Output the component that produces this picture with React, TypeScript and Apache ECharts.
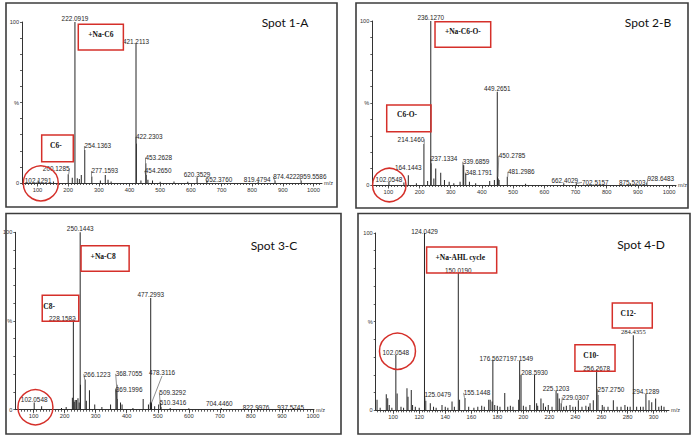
import { useEffect, useRef } from 'react';
import * as echarts from 'echarts';

type Peak = [number, number];

// ---------------- data (m/z, relative intensity %) ----------------
// Spot 1-A
const spot1Labelled: Peak[] = [
  [102.1291, 1.5], [200.1285, 5.5], [222.0919, 100], [254.1363, 20.5], [277.1593, 4],
  [421.2113, 86.8], [422.2303, 24.6], [453.2628, 12.2], [454.265, 5], [620.3529, 3.5],
  [652.376, 1.5], [819.4794, 1], [874.4222, 1.5], [959.5586, 1.5],
];
const spot1Other: Peak[] = [
  [152, 1], [213.4, 3.3], [229.8, 3], [236.5, 2.5], [242.8, 5], [305, 1.5], [321, 5],
  [330, 2], [340, 1], [437.2, 1.5], [460, 2], [475, 1.5], [500, 0.8], [545, 1], [590, 0.8],
];
// Spot 2-B
const spot2Labelled: Peak[] = [
  [102.0548, 2], [164.1443, 6], [214.146, 25], [236.127, 100], [237.1334, 13.2],
  [339.6859, 12.5], [348.1791, 7], [449.2651, 56.9], [450.2785, 5], [481.2986, 5],
  [662.4029, 1], [702.5157, 1], [875.5203, 1], [928.6483, 1.5],
];
const spot2Other: Peak[] = [
  [150, 1.5], [190, 1], [226, 2.5], [246, 4], [252, 10], [268, 7.5], [280, 3], [295, 2],
  [310, 1], [330, 2], [341.7, 12], [360, 2], [380, 1], [425, 2.5], [440, 3], [452, 4],
  [455, 3], [540, 0.8],
];
// Spot 3-C
const spot3Labelled: Peak[] = [
  [102.0548, 4], [228.1582, 49.4], [250.1443, 100], [266.1223, 17], [368.7055, 14],
  [369.1996, 6], [477.2993, 63], [478.3116, 3.8], [509.3292, 3.8], [510.3416, 1.5],
  [704.446, 1], [822.9976, 1], [937.5745, 1],
];
const spot3Other: Peak[] = [
  [126, 2], [190, 1], [205, 1.5], [225, 6.8], [231, 4.5], [234, 5.5], [238, 5.5], [243, 6.5],
  [247, 4], [251.1, 14], [270, 5], [280, 11], [297, 3], [320, 1.5], [348, 3], [365.2, 12],
  [380, 4], [385, 3], [420, 1], [453, 6], [470, 3], [476, 4], [479, 4], [480, 3.5],
  [490, 2], [503, 3], [540, 1], [600, 0.8],
];
// Spot 4-D
const spot4Labelled: Peak[] = [
  [102.0548, 31.4], [124.0429, 100], [125.0479, 5.4], [150.019, 77.4], [155.1448, 7],
  [176.5627, 28.5], [197.1549, 28], [208.593, 20], [225.1203, 11], [229.0307, 4],
  [256.2678, 23], [257.275, 8.6], [284.4355, 42.3], [294.1289, 9.2],
];
const spot4Other: Peak[] = [
  [87.6, 6], [90, 1.5], [94.7, 9], [95.8, 6.8], [97, 3], [99, 1.5], [103.05, 9.5], [106, 2],
  [108, 1.5], [110.6, 12.4], [111.4, 7.7], [113.9, 11.4], [114.9, 3], [117, 2], [120, 1.5],
  [128.5, 4], [131, 2], [133, 1.5], [137.5, 3], [140, 2], [142, 1.5], [145.2, 5], [147, 2],
  [151, 6], [158, 2], [162, 1.5], [165, 2], [168, 2.5], [170, 2], [173.4, 6], [174.5, 6],
  [176, 5], [178, 3], [180, 2.5], [182, 2], [185.7, 9.8], [188, 2], [190, 2.5], [192, 2],
  [196.4, 6], [198.2, 20], [200, 2.5], [202, 2], [205, 3], [210.2, 4], [211, 2.5],
  [213.5, 6.6], [215.3, 4], [217, 2], [219.1, 3], [222, 2], [226.4, 9.6], [227.6, 6.6],
  [231, 2], [233, 2.5], [235.8, 3], [238, 2], [240, 2], [242.2, 5.6], [245, 2], [248, 2.5],
  [250, 2], [251.2, 4], [253.7, 5.6], [260.6, 3], [262, 2], [265, 2], [269.1, 5.6], [272, 2],
  [275, 2], [278, 3], [280, 2], [282, 2], [287, 2], [290, 2], [292, 2], [296.5, 5.6],
  [298.6, 4.5], [301.6, 6.6], [304, 2], [306, 2.5], [308, 2],
];

// tick labels
const xLabelsWide = [100, 200, 300, 400, 500, 600, 700, 800, 900, 1000];
const xLabelsNarrow = [100, 120, 140, 160, 180, 200, 220, 240, 260, 280, 300];
const yLabels = [0, 50, 100];

// ---------------- layout (label nudges: dx, dy, leader line) ----------------
const spot1Nudge = [
  [0, 4, 0], [-12, -1.6, 1], [0, 0, 0], [13, 0, 1], [13, -1.6, 1], [0, 2, 0], [13, -2.4, 1],
  [13, -1.7, 1], [12, 0, 1], [0, 1.6, 0], [12, 3.4, 1], [-1, 2.6, 0], [11.5, 0, 1], [12, 0, 1],
];
const spot2Nudge = [
  [0, 1.6, 0], [0, -4, 0], [-13, -0.7, 1], [0, 0, 0], [13, -1, 1], [13, 1.2, 1], [13, 3, 1],
  [0, 0.6, 0], [14.5, -17, 1], [14, -1, 1], [1, 1.6, 0], [19, 3, 1], [2, 3, 0], [14, 0, 1],
];
const spot3Nudge = [
  [0, 0.7, 0], [-11, 0, 1], [0, 0, 0], [12, -1.5, 1], [12, -7, 1], [12, -5.3, 1], [0, 1, 0],
  [11, -26, 1], [12, -6.7, 1], [12, -0.7, 1], [-2, 0, 0], [-2, 4, 0], [-3, 4, 0],
];
const spot4Nudge = [
  [0, 1.6, 0], [0, 2, 0], [12, -2.7, 1], [0, 1.7, 0], [12, -1, 1], [0, 2.5, 0], [0, 1.6, 0],
  [0, 1.5, 0], [0, 1.5, 0], [14.5, -2, 1], [0, 2.5, 0], [13, -2, 1], [0, 1, 0], [0, 2, 0],
];

type Box = { m: [number, number]; i: [number, number]; text: string; tx: number; ty: number };
type Circ = { m: number; i: number; r: number };

const SANS = '"Liberation Sans", Arial, sans-serif';
const SERIF = '"Liberation Serif", "Times New Roman", serif';
const RED = '#d5302a';
const INK = '#262626';

const panels = [
  {
    title: 'Spot 1-A', titlePos: [285, 22], frame: [6, 3, 331, 204],
    grid: { left: 22, top: 22, width: 300, height: 161 }, min: 49.5, max: 1027.6,
    labels: xLabelsWide, minorStep: 10,
    labelled: spot1Labelled, other: spot1Other, nudge: spot1Nudge,
    boxes: [
      { m: [233, 380], i: [98.6, 82.6], text: '+Na-C6', tx: 0.5, ty: 0.41 },
      { m: [113.7, 216.7], i: [29.8, 13.2], text: 'C6-', tx: 0.45, ty: 0.41 },
    ] as Box[],
    circle: { m: 110.8, i: -0.2, r: 17.5 } as Circ,
  },
  {
    title: 'Spot 2-B', titlePos: [648, 22], frame: [356, 3, 332, 205],
    grid: { left: 372.3, top: 21, width: 303.7, height: 164 }, min: 48.7, max: 1022.1,
    labels: xLabelsWide, minorStep: 10,
    labelled: spot2Labelled, other: spot2Other, nudge: spot2Nudge,
    boxes: [
      { m: [249.7, 428.2], i: [99.6, 84], text: '+Na-C6-O-', tx: 0.5, ty: 0.39 },
      { m: [94.9, 236.9], i: [48.8, 32.5], text: 'C6-O-', tx: 0.46, ty: 0.37 },
    ] as Box[],
    circle: { m: 103.2, i: 0, r: 16.7 } as Circ,
  },
  {
    title: 'Spot 3-C', titlePos: [274, 245.3], frame: [6, 213.5, 335, 220.5],
    grid: { left: 14, top: 232.3, width: 300, height: 177.4 }, min: 41.3, max: 1003.2,
    labels: xLabelsWide, minorStep: 10,
    labelled: spot3Labelled, other: spot3Other, nudge: spot3Nudge,
    boxes: [
      { m: [252.9, 407.8], i: [92.4, 78], text: '+Na-C8', tx: 0.46, ty: 0.41 },
      { m: [127.9, 245.6], i: [64.5, 49.8], text: 'C8-', tx: 0.19, ty: 0.42 },
    ] as Box[],
    circle: { m: 106, i: 1.4, r: 17.5 } as Circ,
  },
  {
    title: 'Spot 4-D', titlePos: [641, 244.7], frame: [358, 213.5, 332, 220.5],
    grid: { left: 375.7, top: 233, width: 293.3, height: 177.3 }, min: 86.58, max: 311.85,
    labels: xLabelsNarrow, minorStep: 2,
    labelled: spot4Labelled, other: spot4Other, nudge: spot4Nudge,
    boxes: [
      { m: [125.7, 179.5], i: [92.1, 77.4], text: '+Na-AHL cycle', tx: 0.48, ty: 0.42 },
      { m: [268.3, 299], i: [60.5, 46.4], text: 'C12-', tx: 0.4, ty: 0.4 },
      { m: [239.6, 270.4], i: [37, 22], text: 'C10-', tx: 0.4, ty: 0.4 },
    ] as Box[],
    circle: { m: 103.3, i: 33.3, r: 18 } as Circ,
  },
];

function stepValues(min: number, max: number, step: number) {
  const out: number[] = [];
  for (let v = Math.ceil(min / step) * step; v <= max + 1e-9; v += step) out.push(+v.toFixed(6));
  return out;
}

export default function App() {
  const ref = useRef<HTMLDivElement>(null);
  useEffect(() => {
    if (!ref.current) return;
    const chart = echarts.init(ref.current, undefined, { renderer: 'svg' });
    const axisLineStyle = { color: '#333', width: 1 };
    const labelStyle = {
      fontSize: 6.4, color: INK, fontFamily: SANS, textBorderWidth: 0, textShadowBlur: 0,
    };
    const option: any = {
      animation: false,
      backgroundColor: '#ffffff',
      grid: panels.map((p) => ({ ...p.grid, containLabel: false })),
      xAxis: panels.flatMap((p, g) => [
        {
          type: 'value', gridIndex: g, min: p.min, max: p.max, position: 'bottom',
          axisLine: { show: true, onZero: false, lineStyle: axisLineStyle },
          axisTick: { show: true, customValues: stepValues(p.min, p.max, p.minorStep), length: 2, lineStyle: { color: '#333', width: 0.8 } },
          axisLabel: {
            customValues: p.labels, fontSize: 5.8, color: '#333', margin: 3.5, fontFamily: SANS,
            formatter: (v: number) => String(v),
          },
          splitLine: { show: false },
          name: 'm/z', nameLocation: 'end', nameGap: 2,
          nameTextStyle: { fontSize: 5.6, color: '#333', fontFamily: SANS, verticalAlign: 'middle' },
        },
        {
          type: 'value', gridIndex: g, min: p.min, max: p.max, position: 'bottom',
          axisLine: { show: false, onZero: false },
          axisTick: { show: true, customValues: p.labels, length: 3.5, lineStyle: { color: '#333', width: 0.8 } },
          axisLabel: { show: false },
          splitLine: { show: false },
        },
      ]),
      yAxis: panels.map((p, g) => ({
        type: 'value', gridIndex: g, min: 0, max: 100,
        axisLine: { show: true, onZero: false, lineStyle: axisLineStyle },
        axisTick: { show: true, customValues: [0, 10, 20, 30, 40, 50, 60, 70, 80, 90, 100], length: 2, lineStyle: { color: '#333', width: 0.8 } },
        axisLabel: {
          customValues: yLabels, fontSize: 5.6, color: '#333', margin: 3, fontFamily: SANS,
          formatter: (v: number) => (v === 50 ? '%' : String(v)),
        },
        splitLine: { show: false },
      })),
      series: panels.map((p, g) => {
        const nOther = p.other.length;
        return {
          type: 'bar', xAxisIndex: 2 * g, yAxisIndex: g, barWidth: 1,
          itemStyle: { color: INK },
          emphasis: { disabled: true },
          label: { show: false, position: 'top', distance: 1, ...labelStyle },
          labelLine: { show: false, lineStyle: { color: '#444', width: 0.6 } },
          labelLayout: (params: any) => {
            const k = params.dataIndex - nOther;
            if (k < 0 || !p.nudge[k]) return {};
            return { dx: p.nudge[k][0], dy: p.nudge[k][1] };
          },
          data: [
            ...p.other.map(([m, v]) => ({ value: [m, v] })),
            ...p.labelled.map(([m, v], k) => ({
              value: [m, v],
              label: {
                show: true,
                position: 'top',
                distance: 1,
                formatter: m.toFixed(4),
                ...labelStyle,
                ...(g === 3 && k === 12 ? { fontFamily: SERIF, fontSize: 6.6 } : {}),
              },
              labelLine: { show: p.nudge[k][2] === 1, lineStyle: { color: '#444', width: 0.6 } },
            })),
          ],
        };
      }),
    };
    chart.setOption(option);

    const graphics: any[] = [];
    panels.forEach((p, g) => {
      const [fx, fy, fw, fh] = p.frame;
      graphics.push({
        type: 'rect', z: 20, silent: true,
        shape: { x: fx, y: fy, width: fw, height: fh },
        style: { fill: 'none', stroke: '#3c3c3c', lineWidth: 1.6 },
      });
      graphics.push({
        type: 'text', z: 20, silent: true, x: p.titlePos[0], y: p.titlePos[1],
        style: {
          text: p.title, font: '12px Lato', fill: '#111',
          align: 'center', verticalAlign: 'middle', textAlign: 'center', textVerticalAlign: 'middle',
        },
      });
      p.boxes.forEach((b) => {
        const a = chart.convertToPixel({ seriesIndex: g }, [b.m[0], b.i[0]]) as number[];
        const c = chart.convertToPixel({ seriesIndex: g }, [b.m[1], b.i[1]]) as number[];
        const w = c[0] - a[0];
        const h = c[1] - a[1];
        graphics.push({
          type: 'rect', z: 20, silent: true,
          shape: { x: a[0], y: a[1], width: w, height: h },
          style: { fill: 'none', stroke: RED, lineWidth: 1.5 },
        });
        graphics.push({
          type: 'text', z: 21, silent: true, x: a[0] + w * b.tx, y: a[1] + h * b.ty,
          style: {
            text: b.text, font: `bold 7.5px ${SERIF}`, fill: '#111',
            align: 'center', verticalAlign: 'middle', textAlign: 'center', textVerticalAlign: 'middle',
          },
        });
      });
      const cc = chart.convertToPixel({ seriesIndex: g }, [p.circle.m, p.circle.i]) as number[];
      graphics.push({
        type: 'circle', z: 20, silent: true,
        shape: { cx: cc[0], cy: cc[1], r: p.circle.r },
        style: { fill: 'none', stroke: RED, lineWidth: 1.5 },
      });
    });
    chart.setOption({ graphic: graphics });

    return () => chart.dispose();
  }, []);

  return (
    <div
      ref={ref}
      style={{ position: 'fixed', left: 0, top: 0, width: 692, height: 437, background: '#fff' }}
    />
  );
}
